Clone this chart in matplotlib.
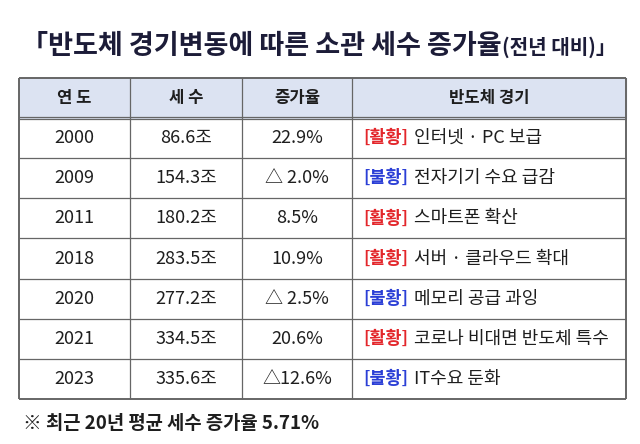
#!/usr/bin/env python3

import matplotlib
matplotlib.use('Agg')
import matplotlib.pyplot as plt

plt.rcParams['font.family'] = ['Noto Sans CJK KR', 'DejaVu Sans']

# table contents
title_main = '「반도체 경기변동에 따른 소관 세수 증가율'
title_sub = '(전년 대비)」'
headers = ['연 도', '세 수', '증가율', '반도체 경기']
years = ['2000', '2009', '2011', '2018', '2020', '2021', '2023']
tax = ['86.6조', '154.3조', '180.2조', '283.5조', '277.2조', '334.5조', '335.6조']
growth = ['22.9%', '△ 2.0%', '8.5%', '10.9%', '△ 2.5%', '20.6%', '△12.6%']
status = ['[활황]', '[불황]', '[활황]', '[활황]', '[불황]', '[활황]', '[불황]']
desc = ['인터넷 · PC 보급', '전자기기 수요 급감', '스마트폰 확산', '서버 · 클라우드 확대',
        '메모리 공급 과잉', '코로나 비대면 반도체 특수', 'IT수요 둔화']
footnote = '※ 최근 20년 평균 세수 증가율 5.71%'

Spec_figsize = (6.4, 4.44)
Spec_dpi = 100

status_color = {'[활황]': '#e3262b', '[불황]': '#2b3fd6'}
text_color = '#1e1e1e'
line_color = '#666666'

fig = plt.figure(figsize=Spec_figsize, dpi=Spec_dpi)
ax = fig.add_axes([0, 0, 1, 1])
ax.set_xlim(0, 640)
ax.set_ylim(444, 0)
ax.axis('off')

col_x = [19, 130, 242, 352, 626]
top = 78
head_bottom = 118
bottom = 399
nrows = len(years)
row_h = (bottom - head_bottom) / nrows
row_y = [head_bottom + row_h * i for i in range(nrows + 1)]

# header background
ax.fill_between([col_x[0], col_x[-1]], top, head_bottom, color='#dce3f2', zorder=0)

# grid lines
ax.hlines([top, bottom], col_x[0], col_x[-1], color=line_color, lw=1.4)
ax.hlines([head_bottom - 1.2, head_bottom + 1.2], col_x[0], col_x[-1], color=line_color, lw=0.9)
ax.hlines(row_y[1:-1], col_x[0], col_x[-1], color=line_color, lw=0.9)
ax.vlines([col_x[0], col_x[-1]], top, bottom, color=line_color, lw=1.4)
ax.vlines(col_x[1:-1], top, bottom, color=line_color, lw=0.9)

# title
t = ax.text(21, 46, title_main, fontsize=19.5, fontweight='bold', color='#1c1c38',
            ha='left', va='center')
ax.annotate(title_sub, xy=(1, 0.5), xycoords=t, xytext=(0, -0.5), textcoords='offset points',
            fontsize=14.5, fontweight='bold', color='#1c1c38', ha='left', va='center')

# header
for j, h in enumerate(headers):
    ax.text((col_x[j] + col_x[j + 1]) / 2, (top + head_bottom) / 2, h, fontsize=12,
            fontweight='bold', color=text_color, ha='center', va='center')

# rows
for i in range(nrows):
    yc = (row_y[i] + row_y[i + 1]) / 2
    for j, val in enumerate([years[i], tax[i], growth[i]]):
        ax.text((col_x[j] + col_x[j + 1]) / 2, yc, val, fontsize=13, fontweight='medium',
                color=text_color, ha='center', va='center')
    lab = ax.text(col_x[3] + 11, yc, status[i], fontsize=12.5, fontweight='bold',
                  color=status_color[status[i]], ha='left', va='center')
    ax.annotate(desc[i], xy=(1, 0.5), xycoords=lab, xytext=(4, 0), textcoords='offset points',
                fontsize=13, fontweight='medium', color=text_color, ha='left', va='center')

ax.text(23, 423, footnote, fontsize=13.5, fontweight='bold', color=text_color,
        ha='left', va='center')

fig.savefig('out.png', dpi=Spec_dpi, facecolor='white')
